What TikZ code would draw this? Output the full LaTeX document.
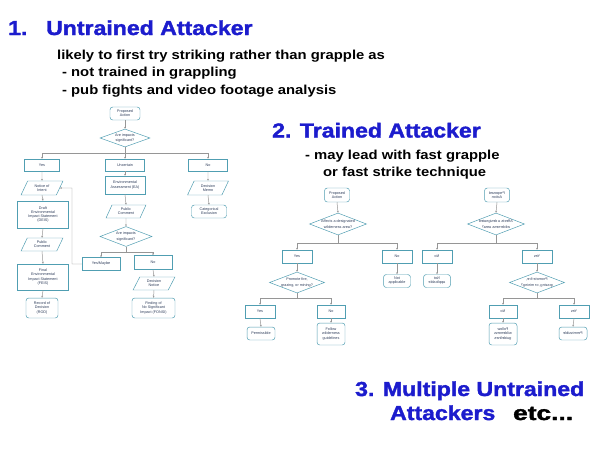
\documentclass[tikz,border=0pt]{standalone}
\usepackage{fontspec}
\setmainfont{Liberation Sans}
\newfontfamily\heavyfont{Liberation Sans}[BoldFeatures={FakeBold=1.6}]
\usepackage{graphicx}
\usetikzlibrary{shapes.geometric,arrows.meta}
\definecolor{ttl}{RGB}{28,28,205}
\definecolor{fcline}{RGB}{80,158,178}
\definecolor{fctext}{RGB}{45,60,90}
\definecolor{wirec}{RGB}{150,150,150}
\def\pu{1.4226pt}
\newcommand\wide[1]{\scalebox{1.14}[1]{#1}}
\newcommand\zw[1]{\makebox[0pt]{\shortstack{#1}}}

\newcommand\chartB[1]{%
 \node[term={25}{14}] (#1p) at (337,195) {Proposed\\Action};
 \node[dia={57}{22}] (#1d) at (338,224) {\zw{Affects a designated\\wilderness area?}};
 \coordinate (#1b) at (338,243);
 \node[fbox={30}{13}] (#1y) at (297,256.5) {Yes};
 \node[fbox={30}{13}] (#1n) at (397,256.5) {No};
 \node[term={27}{13}] (#1na) at (397,281) {Not\\applicable};
 \node[dia={55}{21}] (#1e) at (297,282.5) {\zw{Promote fire,\\grazing, or mining?}};
 \coordinate (#1c) at (297,298);
 \node[fbox={30}{13}] (#1yy) at (260,311.5) {Yes};
 \node[fbox={28}{13}] (#1nn) at (331,311.5) {No};
 \node[term={28}{13}] (#1pe) at (261,333.5) {Permissible};
 \node[term={28}{22}] (#1fw) at (331,334) {Follow\\wilderness\\guidelines};
 \draw[arr] (#1p.south) -- (#1d.north);
 \draw[wire] (#1d.south) -- (#1b);
 \draw[arr] (#1b) -| (#1y.north);
 \draw[arr] (#1b) -| (#1n.north);
 \draw[arr] (#1n.south) -- (#1na.north);
 \draw[arr] (#1y.south) -- (#1e.north);
 \draw[wire] (#1e.south) -- (#1c);
 \draw[arr] (#1c) -| (#1yy.north);
 \draw[arr] (#1c) -| (#1nn.north);
 \draw[arr] (#1yy.south) -- (#1pe.north);
 \draw[arr] (#1nn.south) -- (#1fw.north);
}

\begin{document}
\begin{tikzpicture}[x=0.05cm,y=-0.05cm,
 title/.style={anchor=base west,inner sep=0,text=ttl,font=\heavyfont\fontsize{28.8}{30}\selectfont\bfseries},
 body/.style={anchor=base west,inner sep=0,font=\fontsize{18.5}{20}\selectfont\bfseries},
 fcbase/.style={draw=fcline,line width=0.7pt,fill=white,text=fctext,
   font=\fontsize{5.3}{5.9}\selectfont,align=center,inner sep=0.5pt},
 fbox/.style 2 args={fcbase,rectangle,minimum width={#1*\pu},minimum height={#2*\pu}},
 term/.style 2 args={fcbase,rectangle,rounded corners=4pt,minimum width={#1*\pu},minimum height={#2*\pu}},
 para/.style 2 args={fcbase,trapezium,trapezium left angle=65,trapezium right angle=115,
   trapezium stretches=true,minimum width={#1*\pu},minimum height={#2*\pu}},
 dia/.style 2 args={fcbase,diamond,aspect=2.5,inner sep=0pt,minimum width={#1*\pu},minimum height={#2*\pu}},
 wire/.style={draw=wirec,line width=0.7pt},
 arr/.style={wire,-{Stealth[length=2.8pt,width=2.6pt]}}]
\useasboundingbox[fill=white] (0,0) rectangle (600,450);

% titles and texts
\node[title] (t1n) at (8,35) {\wide{1.}};
\node[title] (t1) at (46,35) {\wide{Untrained Attacker}};
\node[body] (l1) at (57,59) {\wide{likely to first try striking rather than grapple as}};
\node[body] (l2) at (62,76.5) {\wide{- not trained in grappling}};
\node[body] (l3) at (62,94) {\wide{- pub fights and video footage analysis}};
\node[title] (t2) at (272,137.5) {\wide{2. Trained Attacker}};
\node[body] (m1) at (305,159) {\wide{- may lead with fast grapple}};
\node[body] (m2) at (323,176) {\wide{or fast strike technique}};
\node[title] (t3) at (355,396) {\wide{3. Multiple Untrained}};
\node[title] (t3b) at (390,420) {\wide{Attackers}};
\node[title,text=black] (etc) at (513,420) {\scalebox{1.3}[1]{etc...}};

% chart 1
\node[term={30}{13}] (a1) at (125,113.5) {Proposed\\Action};
\node[dia={50}{18}] (a2) at (125,138) {\zw{Are impacts\\significant?}};
\coordinate (ab) at (125,153);
\node[fbox={35}{12}] (ay) at (42,165) {Yes};
\node[fbox={39}{12}] (au) at (125,165) {Uncertain};
\node[fbox={39}{12}] (an) at (208,165) {No};
\node[para={42}{14}] (anoi) at (42,188) {Notice of\\Intent};
\node[fbox={51}{27}] (adeis) at (43,214.5) {Draft\\Environmental\\Impact Statement\\(DEIS)};
\node[para={42}{13}] (apc) at (42,244.5) {Public\\Comment};
\node[fbox={51}{26}] (afeis) at (43,277) {Final\\Environmental\\Impact Statement\\(FEIS)};
\node[term={32}{20}] (arod) at (42,308) {Record of\\Decision\\(ROD)};
\node[fbox={40}{18}] (aea) at (125,185) {Environmental\\Assessment (EA)};
\node[para={40}{13}] (apc2) at (126,211.5) {Public\\Comment};
\node[dia={52}{20}] (ad2) at (126,236.5) {\zw{Are impacts\\significant?}};
\coordinate (ab2) at (126,252);
\node[fbox={38}{13}] (aym) at (101,264) {Yes/Maybe};
\node[fbox={38}{14}] (an2) at (153,262.5) {No};
\node[para={42}{13}] (adn) at (154,283.5) {Decision\\Notice};
\node[term={43}{20}] (afon) at (153.5,308) {Finding of\\No Significant\\Impact (FONSI)};
\node[para={41}{14}] (adm) at (208,188) {Decision\\Memo};
\node[term={35}{13}] (ace) at (209,211.5) {Categorical\\Exclusion};
\coordinate (afb) at (72,188);

\draw[arr] (a1.south) -- (a2.north);
\draw[arr] (a2.south) -- (au.north);
\draw[arr] (ab) -| (ay.north);
\draw[arr] (ab) -| (an.north);
\draw[arr] (ay.south) -- (anoi.north);
\draw[arr] (anoi.south) -- (adeis.north);
\draw[arr] (adeis.south) -- (apc.north);
\draw[arr] (apc.south) -- (afeis.north);
\draw[arr] (afeis.south) -- (arod.north);
\draw[arr] (au.south) -- (aea.north);
\draw[arr] (aea.south) -- (apc2.north);
\draw[arr] (apc2.south) -- (ad2.north);
\draw[wire] (ad2.south) -- (ab2);
\draw[arr] (ab2) -| (aym.north);
\draw[arr] (ab2) -| (an2.north);
\draw[arr] (an2.south) -- (adn.north);
\draw[arr] (adn.south) -- (afon.north);
\draw[arr] (an.south) -- (adm.north);
\draw[arr] (adm.south) -- (ace.north);
\draw[arr] (aym.west) -| (afb) -- (anoi.east);

% chart 2
\chartB{b}
% chart 3 (mirror image of chart 2)
\begin{scope}[shift={(834,0)},xscale=-1,transform shape]
\chartB{c}
\end{scope}
\end{tikzpicture}
\end{document}
